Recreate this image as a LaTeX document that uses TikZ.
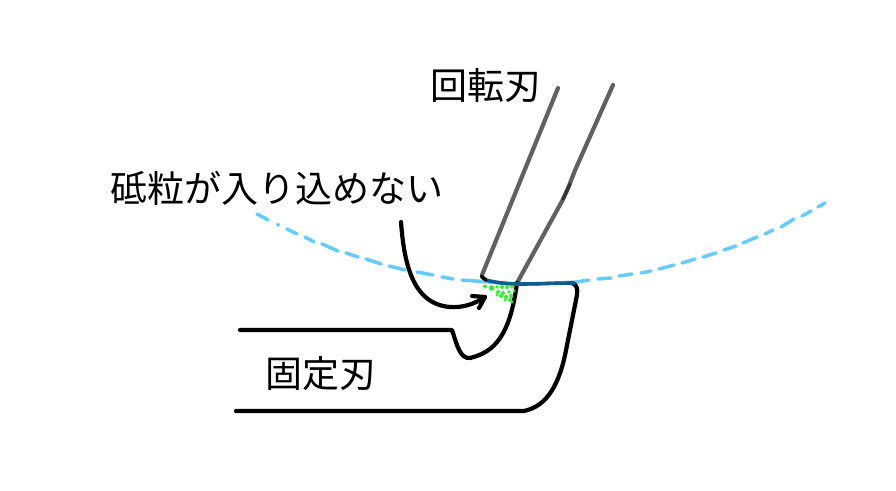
\documentclass[tikz,border=0pt]{standalone}
\usepackage{fontspec}
\newfontfamily\cjk{Noto Sans CJK JP}
\definecolor{skyline}{HTML}{66CCFF}
\definecolor{deepline}{HTML}{0B5F8F}
\definecolor{grit}{HTML}{30F030}
\tikzset{
  label text/.style={font=\cjk\fontsize{37}{37}\selectfont,text=black,inner sep=0pt,anchor=center},
  ink/.style={line width=4.2pt,line cap=round,line join=round,black},
  bladeline/.style={line width=4.2pt,line cap=round,line join=round,black!62},
  arc line/.style={line width=3.5pt,line cap=round,skyline},
  edge line/.style={line width=3.6pt,deepline,line cap=round},
  grain/.style={fill=grit,draw=none}
}
\begin{document}
\begin{tikzpicture}[x=1pt,y=-1pt]
\useasboundingbox (0,0) rectangle (896,490);
\fill[white] (0,0) rectangle (896,490);
% labels
\node[label text] (blade) at (486,85) {回転刃};
\node[label text] (grains) at (277,188) {砥粒が入り込めない};
\node[label text] (fixed) at (321,374) {固定刃};
% slurry arc, hand-spaced dashes
\foreach \ax/\ay/\bx/\by in {
  257/214/268/220, 277.5/224.5/278.5/225.1, 287/229/297/234, 305/237/314/242,
  322/244/338/251, 346/253/358/257, 366/259/381/264, 389/266/405/270,
  417/272/433/275, 442/277/453/279, 462/280/482/281.5, 482/281.5/520/284.5,
  520/284.5/577/282, 577/282/589/280, 598/279/611/278, 619/276/632/274,
  641/273/651/271, 659/269/674/265, 682/263/695/259, 703/257/716/253,
  724/250/736/246, 743/243/757/237, 765/234/773/230, 781/227/794/219,
  802/216/811/211, 818/207/825/203}
  \draw[arc line] (\ax,\ay) -- (\bx,\by);
% rotary blade
\draw[bladeline] (558,88) -- (482,275);
\draw[bladeline] (613,85) -- (576,168) .. controls (571,180) and (568,190) .. (561,203) -- (517,283);
\draw[bladeline,line width=3pt,black!80] (570,184) -- (563,199);
% fixed blade
\draw[ink] (240,330) -- (452,330) .. controls (457,345) and (460,359) .. (470,358)
  .. controls (495,352) and (510,335) .. (517,283);
\draw[ink] (236,411) -- (524,411) .. controls (547,406) and (560,385) .. (567,345)
  -- (576,300) .. controls (578,290) and (578,285) .. (572,283);
% cutting edge
\draw[edge line] (486,280) .. controls (497,283) and (510,284) .. (520,284)
  .. controls (540,284) and (555,283) .. (574,283);
\draw[ink,line width=3.6pt] (481.5,276.5) -- (486,280);
% grit
\foreach \gx/\gy/\gr in {485/286.5/2,491.5/288/2.8,497/287/1.8,502/287/2,507/287/2,512/287/1.8,
  498/292/2,503/293/2,509/292/1.8,497/295/1.6,501/296/2,506/297/2,511/296/2,
  505/300/1.6,510/300/2,512/302/1.7,514/291/1.7}
  \fill[grain] (\gx,\gy) circle (\gr);
% arrow
\draw[ink] (401,222) .. controls (404,262) and (412,304) .. (450,307)
  .. controls (462,308) and (475,304) .. (485,297);
\draw[ink] (472,296) -- (485,297) -- (479,308);
\end{tikzpicture}
\end{document}
